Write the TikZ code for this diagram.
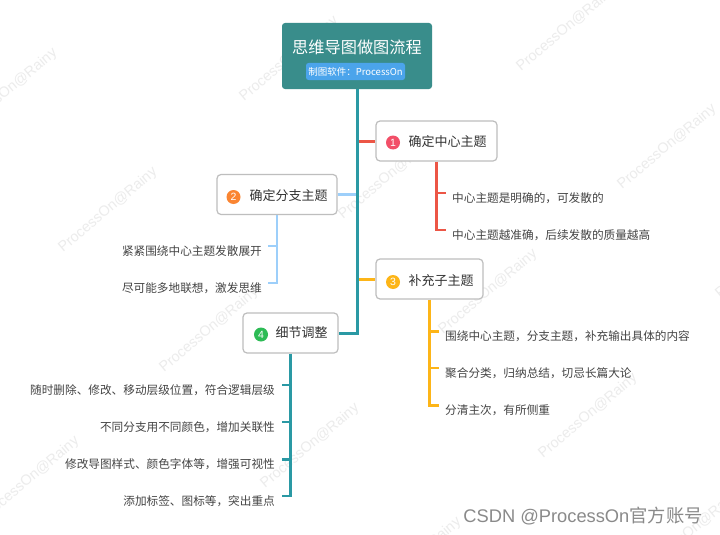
\documentclass[tikz,border=0pt]{standalone}
\usepackage{fontspec}
\setmainfont{Noto Sans CJK SC}
\newfontfamily\latinsans{Liberation Sans}
\usetikzlibrary{calc}
\definecolor{rootfill}{HTML}{398D8B}
\definecolor{trunkc}{HTML}{2A99A4}
\definecolor{pillc}{HTML}{4BA4EB}
\definecolor{redc}{HTML}{EC5646}
\definecolor{bluec}{HTML}{9DCFFA}
\definecolor{orangec}{HTML}{FDB518}
\definecolor{dotone}{HTML}{F24F68}
\definecolor{dottwo}{HTML}{FA8532}
\definecolor{dotthree}{HTML}{FDB517}
\definecolor{dotfour}{HTML}{2DBB55}
\definecolor{boxgray}{HTML}{BEBEBE}
\definecolor{topictxt}{HTML}{333333}
\definecolor{leaftxt}{HTML}{444444}
\definecolor{wmgray}{HTML}{ECECEC}
\definecolor{csdngray}{HTML}{8A8A8A}
\begin{document}
\begin{tikzpicture}[x=1pt,y=-1pt,
  wm/.style={font=\latinsans\fontsize{14.5}{14.5}\selectfont, text=wmgray, rotate=40, inner sep=0},
  topicbox/.style={draw=boxgray, line width=1.2pt, rounded corners=4pt, fill=white, minimum height=40pt, inner sep=0},
  numdot/.style={circle, inner sep=0, minimum size=14pt, text=white, font=\latinsans\fontsize{10.5}{10.5}\selectfont},
  topictext/.style={anchor=west, inner sep=0, text=topictxt, font=\fontsize{13}{13}\selectfont},
  leafw/.style={anchor=west, inner sep=0, text=leaftxt, font=\fontsize{11.65}{11.65}\selectfont},
  leafe/.style={anchor=east, inner sep=0, text=leaftxt, font=\fontsize{11.65}{11.65}\selectfont},
  mainline/.style={line width=3pt},
  subline/.style={line width=2.2pt},
]
\useasboundingbox (0,0) rectangle (720,535);
\fill[white] (0,0) rectangle (720,535);

% watermarks
\node[wm] (w1) at (8,91) {ProcessOn@Rainy};
\node[wm] (w2) at (289,59) {ProcessOn@Rainy};
\node[wm] (w3) at (566,29) {ProcessOn@Rainy};
\node[wm] (w4) at (667,147) {ProcessOn@Rainy};
\node[wm] (w5) at (108,210) {ProcessOn@Rainy};
\node[wm] (w6) at (388,177) {ProcessOn@Rainy};
\node[wm] (w7) at (488,292) {ProcessOn@Rainy};
\node[wm] (w8) at (209,330) {ProcessOn@Rainy};
\node[wm] (w9) at (30,479) {ProcessOn@Rainy};
\node[wm] (w10) at (310,446) {ProcessOn@Rainy};
\node[wm] (w11) at (588,416) {ProcessOn@Rainy};
\node[wm] (w12) at (412,560) {ProcessOn@Rainy};
\node[wm] (w13) at (692,531) {ProcessOn@Rainy};
\node[wm] (w14) at (765,256) {ProcessOn@Rainy};

% root
\node[fill=rootfill, rounded corners=3pt, minimum width=150pt, minimum height=66pt, inner sep=0] (root) at (357,56) {};
\node[inner sep=0, text=white, font=\fontsize{16.2}{16.2}\selectfont] (title) at (357,47.5) {思维导图做图流程};
\node[fill=pillc, rounded corners=2.5pt, minimum width=99pt, minimum height=17pt, inner sep=0, text=white, font=\fontsize{9.5}{9.5}\selectfont] (pill) at (355.5,71.5) {制图软件：ProcessOn};

% topic boxes
\node[topicbox, minimum width=121pt] (b1) at (436.5,141) {};
\node[topicbox, minimum width=120pt] (b2) at (277,194.5) {};
\node[topicbox, minimum width=107pt] (b3) at (429.5,279) {};
\node[topicbox, minimum width=95pt] (b4) at (290.5,333) {};

% branch connectors
\draw[mainline, redc] (root.south |- b1.west) -- (b1.west);
\draw[mainline, bluec] (b2.east) -- (root.south |- b2.east);
\draw[mainline, orangec] (root.south |- b3.west) -- (b3.west);
\draw[mainline, trunkc, line join=miter] (root.south) -- (root.south |- b4.east) -- (b4.east);

% topic contents
\node[numdot, fill=dotone] (n1) at (393,142.5) {1};
\node[topictext] (t1) at (408.5,141.5) {确定中心主题};
\node[numdot, fill=dottwo] (n2) at (233.5,197) {2};
\node[topictext] (t2) at (249.5,195.5) {确定分支主题};
\node[numdot, fill=dotthree] (n3) at (393,282) {3};
\node[topictext] (t3) at (408.5,280.5) {补充子主题};
\node[numdot, fill=dotfour] (n4) at (261,334.5) {4};
\node[topictext] (t4) at (275.5,333) {细节调整};

% leaves of topic 1
\node[leafw] (l11) at (452,198) {中心主题是明确的，可发散的};
\node[leafw] (l12) at (452,235) {中心主题越准确，后续发散的质量越高};
\coordinate (k11) at ([xshift=-6pt,yshift=5pt]l11.west);
\coordinate (k12) at ([xshift=-6pt,yshift=5pt]l12.west);
\draw[subline, redc] (b1.south) |- (k12);
\draw[subline, redc] (k11 -| b1.south) -- (k11);

% leaves of topic 2
\node[leafe] (l21) at (262,251) {紧紧围绕中心主题发散展开};
\node[leafe] (l22) at (262,288) {尽可能多地联想，激发思维};
\coordinate (k21) at ([xshift=6pt,yshift=5pt]l21.east);
\coordinate (k22) at ([xshift=6pt,yshift=5pt]l22.east);
\draw[subline, bluec] (b2.south) |- (k22);
\draw[subline, bluec] (k21 -| b2.south) -- (k21);

% leaves of topic 3
\node[leafw] (l31) at (445,336.5) {围绕中心主题，分支主题，补充输出具体的内容};
\node[leafw] (l32) at (445,373) {聚合分类，归纳总结，切忌长篇大论};
\node[leafw] (l33) at (445,410.5) {分清主次，有所侧重};
\coordinate (k31) at ([xshift=-6pt,yshift=5pt]l31.west);
\coordinate (k32) at ([xshift=-6pt,yshift=5pt]l32.west);
\coordinate (k33) at ([xshift=-6pt,yshift=5pt]l33.west);
\draw[subline, orangec] (b3.south) |- (k33);
\draw[subline, orangec] (k31 -| b3.south) -- (k31);
\draw[subline, orangec] (k32 -| b3.south) -- (k32);

% leaves of topic 4
\node[leafe] (l41) at (275,390) {随时删除、修改、移动层级位置，符合逻辑层级};
\node[leafe] (l42) at (275,427) {不同分支用不同颜色，增加关联性};
\node[leafe] (l43) at (275,464.5) {修改导图样式、颜色字体等，增强可视性};
\node[leafe] (l44) at (275,501) {添加标签、图标等，突出重点};
\coordinate (k41) at ([xshift=6.5pt,yshift=5pt]l41.east);
\coordinate (k42) at ([xshift=6.5pt,yshift=5pt]l42.east);
\coordinate (k43) at ([xshift=6.5pt,yshift=5pt]l43.east);
\coordinate (k44) at ([xshift=6.5pt,yshift=5pt]l44.east);
\draw[subline, trunkc] (b4.south) |- (k44);
\draw[subline, trunkc] (k41 -| b4.south) -- (k41);
\draw[subline, trunkc] (k42 -| b4.south) -- (k42);
\draw[subline, trunkc] (k43 -| b4.south) -- (k43);

% credit
\node[inner sep=0, text=csdngray, font=\fontsize{18.3}{18.3}\selectfont] (credit) at (583,516) {{\latinsans CSDN @ProcessOn}官方账号};
\end{tikzpicture}
\end{document}
